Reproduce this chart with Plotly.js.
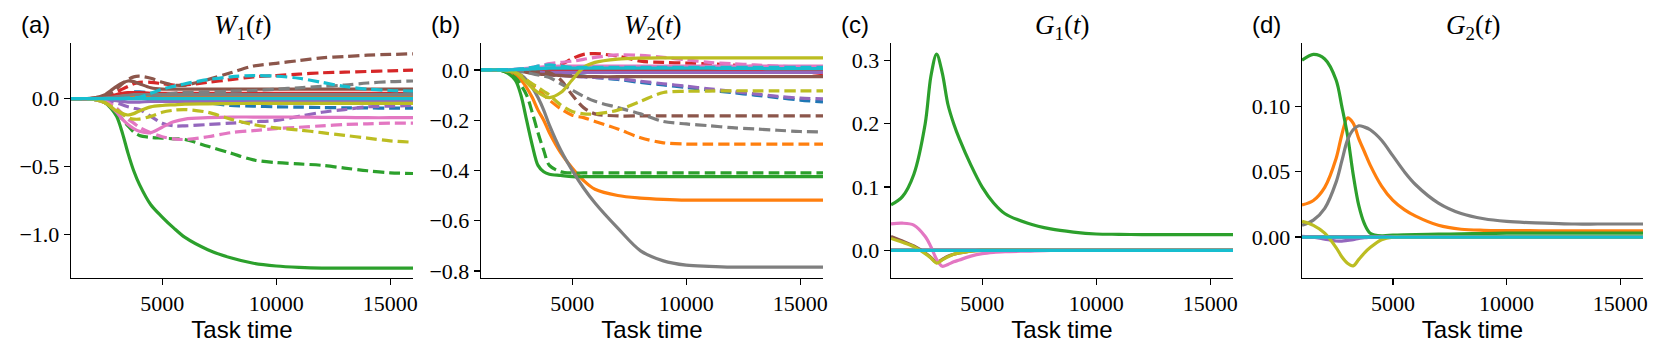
<!DOCTYPE html>
<html>
<head>
<meta charset="utf-8">
<script src="https://cdn.plot.ly/plotly-3.0.1.min.js"></script>
<style>
  html, body { margin: 0; padding: 0; background: #fff; }
  #plot { width: 1661px; height: 354px; }
</style>
</head>
<body>
<div id="plot"></div>
<script>
// task time grid shared by every curve
const taskTime = [1000, 1500, 2000, 2500, 2750, 3000, 3250, 3500, 3750, 4000, 4500, 5000,
                  5500, 6000, 7000, 8000, 9000, 10000, 11000, 12000, 13000, 14000, 15000, 16000];

const flat0 = [0, 0, 0, 0, 0, 0, 0, 0, 0, 0, 0, 0, 0, 0, 0, 0, 0, 0, 0, 0, 0, 0, 0, 0];

// rows in tab10 order: blue, orange, green, red, purple, brown, pink, gray, olive, cyan
const w1Solid = [
  [0, 0, 0, 0.002, 0.005, 0.01, 0.015, 0.02, 0.022, 0.022, 0.02, 0.02, 0.02, 0.02, 0.02, 0.02, 0.02, 0.02, 0.02, 0.02, 0.02, 0.02, 0.02, 0.02],
  [0, 0, 0, 0.002, 0.005, 0.01, 0.015, 0.02, 0.022, 0.023, 0.025, 0.025, 0.025, 0.025, 0.025, 0.025, 0.025, 0.025, 0.025, 0.025, 0.025, 0.025, 0.025, 0.025],
  [0, 0, -0.005, -0.03, -0.07, -0.13, -0.25, -0.40, -0.53, -0.63, -0.78, -0.87, -0.95, -1.02, -1.11, -1.17, -1.21, -1.23, -1.24, -1.245, -1.245, -1.245, -1.245, -1.245],
  [0, 0, 0.002, 0.01, 0.02, 0.03, 0.04, 0.045, 0.045, 0.045, 0.04, 0.04, 0.04, 0.04, 0.04, 0.04, 0.04, 0.04, 0.04, 0.04, 0.04, 0.04, 0.04, 0.04],
  [0, 0, -0.002, -0.005, -0.01, -0.015, -0.02, -0.025, -0.025, -0.025, -0.02, -0.02, -0.02, -0.02, -0.02, -0.02, -0.02, -0.02, -0.02, -0.02, -0.02, -0.02, -0.02, -0.02],
  [0, 0, 0.005, 0.03, 0.06, 0.09, 0.115, 0.13, 0.125, 0.11, 0.08, 0.07, 0.07, 0.07, 0.07, 0.07, 0.07, 0.07, 0.07, 0.07, 0.07, 0.07, 0.07, 0.07],
  [0, 0, -0.005, -0.03, -0.06, -0.10, -0.15, -0.19, -0.22, -0.24, -0.25, -0.21, -0.17, -0.15, -0.14, -0.135, -0.135, -0.135, -0.135, -0.137, -0.138, -0.14, -0.14, -0.14],
  [0, 0, 0.002, 0.005, 0.01, 0.015, 0.02, 0.025, 0.03, 0.03, 0.03, 0.03, 0.03, 0.03, 0.03, 0.03, 0.03, 0.03, 0.03, 0.03, 0.03, 0.03, 0.03, 0.03],
  [0, 0, -0.005, -0.03, -0.06, -0.09, -0.11, -0.12, -0.11, -0.09, -0.06, -0.05, -0.045, -0.04, -0.038, -0.036, -0.035, -0.035, -0.035, -0.035, -0.035, -0.035, -0.035, -0.035],
  flat0
];
const w1Dashed = [
  [0, 0, 0, 0.003, 0.008, 0.015, 0.03, 0.04, 0.05, 0.05, 0.04, 0.02, 0.01, 0, -0.03, -0.05, -0.055, -0.06, -0.062, -0.065, -0.067, -0.068, -0.07, -0.07],
  [0, 0, 0, 0.003, 0.006, 0.012, 0.02, 0.025, 0.03, 0.032, 0.035, 0.035, 0.035, 0.035, 0.035, 0.035, 0.035, 0.035, 0.035, 0.035, 0.035, 0.035, 0.035, 0.035],
  [0, 0, -0.005, -0.03, -0.06, -0.10, -0.15, -0.20, -0.245, -0.27, -0.285, -0.29, -0.295, -0.30, -0.35, -0.40, -0.45, -0.47, -0.48, -0.49, -0.51, -0.53, -0.545, -0.55],
  [0, 0, 0.003, 0.02, 0.035, 0.05, 0.07, 0.09, 0.11, 0.12, 0.12, 0.11, 0.1, 0.1, 0.12, 0.14, 0.16, 0.17, 0.18, 0.19, 0.195, 0.2, 0.205, 0.21],
  [0, 0, -0.002, -0.01, -0.02, -0.03, -0.045, -0.06, -0.07, -0.08, -0.13, -0.18, -0.2, -0.2, -0.19, -0.18, -0.17, -0.16, -0.13, -0.1, -0.08, -0.06, -0.055, -0.05],
  [0, 0, 0.005, 0.02, 0.04, 0.07, 0.11, 0.14, 0.16, 0.165, 0.15, 0.12, 0.1, 0.1, 0.14, 0.19, 0.24, 0.26, 0.28, 0.3, 0.31, 0.32, 0.325, 0.33],
  [0, 0, -0.005, -0.02, -0.04, -0.07, -0.11, -0.15, -0.18, -0.21, -0.25, -0.28, -0.295, -0.30, -0.28, -0.25, -0.235, -0.22, -0.21, -0.2, -0.19, -0.185, -0.18, -0.18],
  [0, 0, 0, 0.002, 0.004, 0.006, 0.008, 0.01, 0.01, 0.01, 0.02, 0.03, 0.04, 0.045, 0.05, 0.055, 0.06, 0.07, 0.08, 0.09, 0.1, 0.115, 0.125, 0.13],
  [0, 0, -0.004, -0.03, -0.055, -0.08, -0.11, -0.14, -0.15, -0.15, -0.13, -0.1, -0.085, -0.08, -0.1, -0.15, -0.19, -0.215, -0.23, -0.25, -0.27, -0.29, -0.31, -0.32],
  [0, 0, 0, 0, 0, 0, 0.002, 0.005, 0.008, 0.01, 0.04, 0.07, 0.09, 0.11, 0.14, 0.16, 0.17, 0.165, 0.15, 0.12, 0.09, 0.07, 0.06, 0.055]
];

const w2Solid = [
  [0, 0, 0, 0, 0, -0.002, -0.003, -0.004, -0.005, -0.005, -0.005, -0.005, -0.005, -0.005, -0.005, -0.005, -0.005, -0.005, -0.005, -0.005, -0.005, -0.005, -0.005, -0.005],
  [0, 0, -0.003, -0.02, -0.04, -0.07, -0.11, -0.16, -0.2, -0.25, -0.33, -0.39, -0.44, -0.475, -0.5, -0.51, -0.515, -0.518, -0.518, -0.518, -0.518, -0.518, -0.518, -0.518],
  [0, 0, -0.005, -0.04, -0.1, -0.2, -0.3, -0.38, -0.405, -0.415, -0.42, -0.425, -0.425, -0.425, -0.425, -0.425, -0.425, -0.425, -0.425, -0.425, -0.425, -0.425, -0.425, -0.425],
  flat0,
  [0, 0, 0, -0.002, -0.004, -0.006, -0.008, -0.01, -0.01, -0.01, -0.01, -0.01, -0.01, -0.01, -0.01, -0.01, -0.01, -0.01, -0.01, -0.01, -0.01, -0.01, -0.01, -0.01],
  [0, 0, 0, -0.002, -0.005, -0.01, -0.013, -0.016, -0.018, -0.02, -0.022, -0.025, -0.026, -0.027, -0.027, -0.027, -0.027, -0.027, -0.027, -0.027, -0.027, -0.027, -0.027, -0.027],
  [0, 0, 0, 0.002, 0.004, 0.006, 0.008, 0.01, 0.012, 0.014, 0.015, 0.015, 0.015, 0.015, 0.015, 0.015, 0.015, 0.015, 0.015, 0.015, 0.015, 0.015, 0.015, 0.015],
  [0, 0, -0.002, -0.01, -0.02, -0.04, -0.07, -0.11, -0.16, -0.22, -0.32, -0.4, -0.47, -0.53, -0.63, -0.72, -0.76, -0.777, -0.782, -0.785, -0.785, -0.785, -0.785, -0.785],
  [0, 0, -0.002, -0.01, -0.025, -0.05, -0.072, -0.09, -0.103, -0.11, -0.09, -0.04, 0.01, 0.03, 0.043, 0.047, 0.048, 0.048, 0.048, 0.048, 0.048, 0.048, 0.048, 0.048],
  [0, 0, 0, 0.001, 0.002, 0.003, 0.004, 0.005, 0.006, 0.007, 0.007, 0.007, 0.007, 0.007, 0.007, 0.007, 0.007, 0.007, 0.007, 0.006, 0.006, 0.005, 0.005, 0.005]
];
const w2Dashed = [
  [0, 0, 0, -0.001, -0.002, -0.003, -0.005, -0.007, -0.009, -0.01, -0.015, -0.02, -0.025, -0.03, -0.038, -0.05, -0.06, -0.07, -0.08, -0.09, -0.1, -0.11, -0.12, -0.127],
  [0, 0, -0.003, -0.015, -0.025, -0.04, -0.06, -0.08, -0.1, -0.12, -0.155, -0.18, -0.19, -0.205, -0.235, -0.27, -0.29, -0.295, -0.295, -0.295, -0.295, -0.295, -0.295, -0.295],
  [0, 0, -0.005, -0.03, -0.06, -0.1, -0.17, -0.25, -0.32, -0.38, -0.405, -0.41, -0.41, -0.41, -0.41, -0.41, -0.41, -0.41, -0.41, -0.41, -0.41, -0.41, -0.41, -0.41],
  [0, 0, 0, 0, 0, 0.002, 0.003, 0.004, 0.005, 0.005, 0.02, 0.045, 0.062, 0.065, 0.055, 0.035, 0.03, 0.027, 0.024, 0.02, 0.013, 0.006, -0.005, -0.015],
  [0, 0, 0, -0.002, -0.003, -0.005, -0.01, -0.015, -0.018, -0.02, -0.023, -0.025, -0.028, -0.03, -0.035, -0.045, -0.055, -0.065, -0.075, -0.085, -0.095, -0.105, -0.112, -0.115],
  [0, 0, 0, 0, -0.001, -0.002, -0.003, -0.005, -0.007, -0.01, -0.04, -0.1, -0.15, -0.175, -0.183, -0.183, -0.183, -0.183, -0.183, -0.183, -0.183, -0.183, -0.183, -0.183],
  [0, 0, 0, 0.002, 0.004, 0.005, 0.01, 0.015, 0.02, 0.025, 0.03, 0.035, 0.042, 0.05, 0.06, 0.058, 0.05, 0.04, 0.03, 0.025, 0.02, 0.015, 0.012, 0.01],
  [0, 0, 0, -0.003, -0.006, -0.01, -0.015, -0.02, -0.025, -0.03, -0.055, -0.08, -0.105, -0.125, -0.15, -0.175, -0.205, -0.215, -0.222, -0.23, -0.235, -0.24, -0.245, -0.247],
  [0, 0, -0.002, -0.01, -0.022, -0.04, -0.055, -0.07, -0.085, -0.1, -0.14, -0.165, -0.175, -0.175, -0.16, -0.125, -0.09, -0.085, -0.084, -0.083, -0.083, -0.083, -0.083, -0.083],
  [0, 0, 0, 0.002, 0.004, 0.007, 0.01, 0.015, 0.018, 0.02, 0.015, 0.01, 0.01, 0.01, 0.01, 0.01, 0.01, 0.01, 0.01, 0.01, 0.01, 0.01, 0.01, 0.01]
];

const g1Solid = [
  flat0,
  flat0,
  [0.072, 0.085, 0.12, 0.2, 0.275, 0.31, 0.28, 0.23, 0.2, 0.176, 0.135, 0.1, 0.075, 0.058, 0.043, 0.034, 0.029, 0.026, 0.0255, 0.025, 0.025, 0.025, 0.025, 0.025],
  flat0,
  flat0,
  [0.022, 0.015, 0.007, -0.004, -0.011, -0.019, -0.014, -0.009, -0.006, -0.004, -0.001, 0, 0, 0, 0, 0, 0, 0, 0, 0, 0, 0, 0, 0],
  [0.042, 0.043, 0.04, 0.022, 0.006, -0.014, -0.025, -0.022, -0.018, -0.015, -0.009, -0.005, -0.003, -0.002, -0.001, 0, 0, 0, 0, 0, 0, 0, 0, 0],
  flat0,
  [0.019, 0.013, 0.006, -0.005, -0.012, -0.02, -0.015, -0.01, -0.006, -0.004, -0.001, 0, 0, 0, 0, 0, 0, 0, 0, 0, 0, 0, 0, 0],
  flat0
];

const g2Solid = [
  flat0,
  [0.0245, 0.028, 0.038, 0.06, 0.078, 0.091, 0.087, 0.075, 0.065, 0.055, 0.039, 0.028, 0.021, 0.016, 0.009, 0.006, 0.0052, 0.005, 0.0049, 0.0048, 0.0048, 0.0048, 0.0048, 0.0048],
  [0.135, 0.1395, 0.136, 0.12, 0.1, 0.078, 0.048, 0.024, 0.01, 0.003, 0.001, 0.0015, 0.0018, 0.002, 0.0022, 0.0025, 0.0027, 0.003, 0.003, 0.003, 0.003, 0.003, 0.003, 0.003],
  flat0,
  [0.0005, 0, -0.0015, -0.003, -0.003, -0.0025, -0.002, -0.001, -0.0005, 0, 0, 0, 0, 0, 0, 0, 0, 0, 0, 0, 0, 0, 0, 0],
  flat0,
  flat0,
  [0.009, 0.013, 0.022, 0.042, 0.058, 0.074, 0.082, 0.085, 0.084, 0.082, 0.074, 0.062, 0.05, 0.04, 0.026, 0.018, 0.014, 0.012, 0.011, 0.0105, 0.01, 0.01, 0.01, 0.01],
  [0.012, 0.009, 0.003, -0.008, -0.015, -0.02, -0.022, -0.017, -0.012, -0.008, -0.002, 0, 0, 0, 0, 0, 0, 0, 0, 0, 0, 0, 0, 0],
  flat0
];

const panelTitles = ['<i>W</i><sub>1</sub>(<i>t</i>)', '<i>W</i><sub>2</sub>(<i>t</i>)',
                     '<i>G</i><sub>1</sub>(<i>t</i>)', '<i>G</i><sub>2</sub>(<i>t</i>)'];
const panelLabels = ['(a)', '(b)', '(c)', '(d)'];
const xTicks = [5000, 10000, 15000];
const yTicks = [[-1.0, -0.5, 0.0], [-0.8, -0.6, -0.4, -0.2, 0.0], [0.0, 0.1, 0.2, 0.3], [0.00, 0.05, 0.10]];

const tab10 = ['#1f77b4', '#ff7f0e', '#2ca02c', '#d62728', '#9467bd',
               '#8c564b', '#e377c2', '#7f7f7f', '#bcbd22', '#17becf'];

const W = 1661, H = 354;
const xDomains = [[71, 413], [481, 823], [891, 1233], [1302, 1643]];
const yRanges = [[-1.316, 0.407], [-0.827, 0.106], [-0.043, 0.327], [-0.031, 0.148]];
const yFormats = ['.1f', '.1f', '.1f', '.2f'];

const serif = 'Liberation Serif';
const sans = 'Liberation Sans';

function makeTraces(panel, solid, dashed) {
  const suffix = panel === 0 ? '' : String(panel + 1);
  const traces = [];
  for (let i = 0; i < 10; i++) {
    if (solid) {
      traces.push({
        x: taskTime, y: solid[i], xaxis: 'x' + suffix, yaxis: 'y' + suffix,
        mode: 'lines', line: { color: tab10[i], width: 3.2, shape: 'spline', smoothing: 0.9 },
        hoverinfo: 'skip'
      });
    }
    if (dashed) {
      traces.push({
        x: taskTime, y: dashed[i], xaxis: 'x' + suffix, yaxis: 'y' + suffix,
        mode: 'lines', line: { color: tab10[i], width: 3.2, dash: '11px,5px', shape: 'spline', smoothing: 0.9 },
        hoverinfo: 'skip'
      });
    }
  }
  return traces;
}

const data = [].concat(
  makeTraces(0, w1Solid, w1Dashed),
  makeTraces(1, w2Solid, w2Dashed),
  makeTraces(2, g1Solid, null),
  makeTraces(3, g2Solid, null)
);

const layout = {
  width: W, height: H,
  margin: { l: 0, r: 0, t: 0, b: 0 },
  paper_bgcolor: '#fff', plot_bgcolor: '#fff',
  font: { family: serif, size: 22, color: '#000' },
  showlegend: false,
  annotations: []
};

xDomains.forEach((d, p) => {
  const suffix = p === 0 ? '' : String(p + 1);
  layout['xaxis' + suffix] = {
    domain: [d[0] / W, d[1] / W],
    anchor: 'y' + suffix,
    range: [1000, 16000],
    tickvals: xTicks,
    tickformat: 'd',
    showline: true, linecolor: '#000', linewidth: 1.3,
    ticks: 'outside', ticklen: 6, tickwidth: 1.3, tickcolor: '#000',
    showgrid: false, zeroline: false,
    tickfont: { family: serif, size: 22, color: '#000' },
    title: { text: 'Task time', font: { family: sans, size: 24, color: '#000' }, standoff: 4 }
  };
  layout['yaxis' + suffix] = {
    domain: [(H - 277.7) / H, (H - 43.3) / H],
    anchor: 'x' + suffix,
    range: yRanges[p],
    tickvals: yTicks[p],
    tickformat: yFormats[p],
    showline: true, linecolor: '#000', linewidth: 1.3,
    ticks: 'outside', ticklen: 6, tickwidth: 1.3, tickcolor: '#000',
    showgrid: false, zeroline: false,
    tickfont: { family: serif, size: 22, color: '#000' }
  };
  layout.annotations.push({
    xref: 'paper', yref: 'paper', x: (d[0] + d[1]) / 2 / W, y: 1 - 27 / H,
    xanchor: 'center', yanchor: 'middle', showarrow: false,
    text: panelTitles[p], font: { family: serif, size: 27, color: '#000' }
  });
  layout.annotations.push({
    xref: 'paper', yref: 'paper', x: (d[0] - 52) / W, y: 1 - 25 / H,
    xanchor: 'left', yanchor: 'middle', showarrow: false,
    text: panelLabels[p], font: { family: sans, size: 24, color: '#000' }
  });
});

Plotly.newPlot('plot', data, layout, { staticPlot: true });
</script>
</body>
</html>
